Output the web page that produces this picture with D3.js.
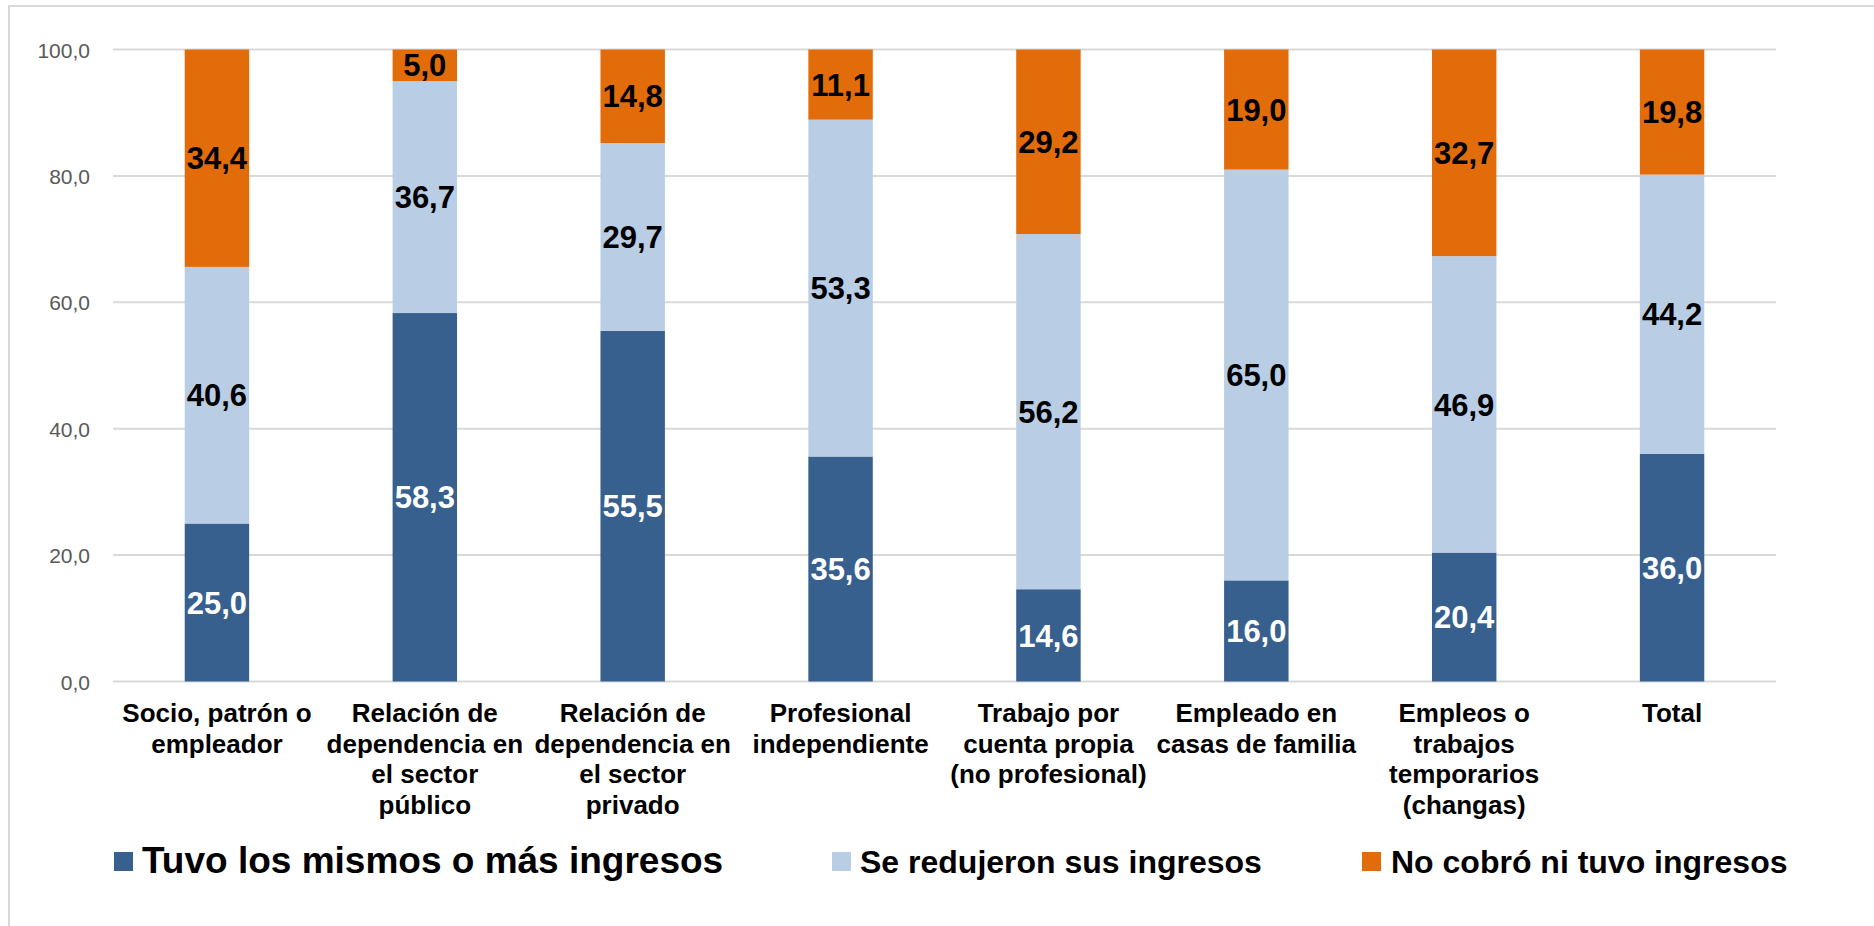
<!DOCTYPE html>
<html>
<head>
<meta charset="utf-8">
<script src="https://cdn.jsdelivr.net/npm/d3@7"></script>
<style>
  html, body { margin: 0; padding: 0; background: #fff; }
  svg { display: block; font-family: "Liberation Sans", Arial, sans-serif; }
</style>
</head>
<body>
<svg id="chart" width="1874" height="926"></svg>
<script>
const categories = [
  ["Socio, patrón o", "empleador"],
  ["Relación de", "dependencia en", "el sector", "público"],
  ["Relación de", "dependencia en", "el sector", "privado"],
  ["Profesional", "independiente"],
  ["Trabajo por", "cuenta propia", "(no profesional)"],
  ["Empleado en", "casas de familia"],
  ["Empleos o", "trabajos", "temporarios", "(changas)"],
  ["Total"]
];
const seriesNames = ["Tuvo los mismos o más ingresos", "Se redujeron sus ingresos", "No cobró ni tuvo ingresos"];
const mismos   = [25.0, 58.3, 55.5, 35.6, 14.6, 16.0, 20.4, 36.0];
const redujeron = [40.6, 36.7, 29.7, 53.3, 56.2, 65.0, 46.9, 44.2];
const noCobro  = [34.4, 5.0, 14.8, 11.1, 29.2, 19.0, 32.7, 19.8];
const yTicks = [0, 20, 40, 60, 80, 100];
const colors = ["#37608F", "#B9CDE5", "#E36C0A"];
const labelColors = ["#ffffff", "#000000", "#000000"];

const svg = d3.select("#chart");
const fmt = v => d3.format(".1f")(v).replace(".", ",");

// outer border
svg.append("rect").attr("x", 9).attr("y", 6).attr("width", 1900).attr("height", 1000)
  .attr("fill", "none").attr("stroke", "#D9D9D9").attr("stroke-width", 2);

const x = d3.scaleBand().domain(d3.range(categories.length)).range([113, 1776]).paddingInner(0.69).paddingOuter(0.345);
const y = d3.scaleLinear().domain([0, 100]).range([681.5, 49.5]);

// gridlines
svg.append("g").selectAll("line").data(yTicks).join("line")
  .attr("x1", 113).attr("x2", 1776)
  .attr("y1", d => y(d)).attr("y2", d => y(d))
  .attr("stroke", "#D9D9D9").attr("stroke-width", 2);

// y axis labels
const yAxis = d3.axisLeft(y).tickValues(yTicks).tickFormat(fmt).tickSize(0).tickPadding(0);
const yg = svg.append("g").attr("transform", "translate(90,0)").call(yAxis);
yg.select(".domain").remove();
yg.selectAll("text").attr("font-size", 21).attr("fill", "#595959")
  .attr("font-family", "'Liberation Sans', Arial, sans-serif").attr("dy", "0.36em");

// stacked data
const rows = categories.map((c, i) => ({ i, s0: mismos[i], s1: redujeron[i], s2: noCobro[i] }));
const stack = d3.stack().keys(["s0", "s1", "s2"]);
const stacked = stack(rows);

stacked.forEach((layer, k) => {
  const g = svg.append("g");
  g.selectAll("rect").data(layer).join("rect")
    .attr("x", d => x(d.data.i))
    .attr("width", x.bandwidth())
    .attr("y", d => y(d[1]))
    .attr("height", d => y(d[0]) - y(d[1]))
    .attr("fill", colors[k]);
  g.selectAll("text").data(layer).join("text")
    .attr("x", d => x(d.data.i) + x.bandwidth() / 2)
    .attr("y", d => y((d[0] + d[1]) / 2))
    .attr("dy", "0.36em")
    .attr("text-anchor", "middle")
    .attr("font-size", 31).attr("font-weight", "bold")
    .attr("fill", labelColors[k])
    .text(d => fmt(d[1] - d[0]));
});

// x labels
const xl = svg.append("g");
categories.forEach((lines, i) => {
  const t = xl.append("text")
    .attr("x", x(i) + x.bandwidth() / 2)
    .attr("y", 722)
    .attr("text-anchor", "middle")
    .attr("font-size", 26).attr("font-weight", "bold").attr("fill", "#000");
  lines.forEach((ln, j) => {
    t.append("tspan").attr("x", x(i) + x.bandwidth() / 2).attr("y", 722 + j * 30.5).text(ln);
  });
});

// legend
const legendItems = [
  { name: seriesNames[0], color: colors[0], mx: 114, tx: 142, size: 37 },
  { name: seriesNames[1], color: colors[1], mx: 832, tx: 860, size: 32 },
  { name: seriesNames[2], color: colors[2], mx: 1362, tx: 1391, size: 32 }
];
const lg = svg.append("g");
legendItems.forEach(it => {
  lg.append("rect").attr("x", it.mx).attr("y", 852).attr("width", 19).attr("height", 19).attr("fill", it.color);
  lg.append("text").attr("x", it.tx).attr("y", 873).attr("font-size", it.size)
    .attr("font-weight", "bold").attr("fill", "#000").text(it.name);
});
</script>
</body>
</html>
